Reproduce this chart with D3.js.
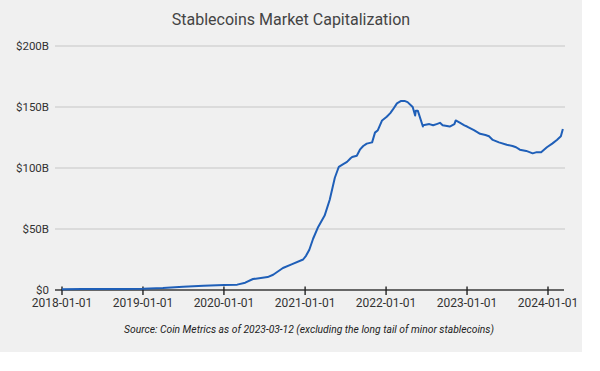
<!DOCTYPE html>
<html><head><meta charset="utf-8">
<script src="https://cdn.jsdelivr.net/npm/d3@7"></script>
<style>body{margin:0;background:#fff;}svg{display:block;}</style>
</head><body>
<svg id="c" width="600" height="371"></svg>
<script>
const title = "Stablecoins Market Capitalization";
const source = "Source: Coin Metrics as of 2023-03-12 (excluding the long tail of minor stablecoins)";
const yTicks = [0, 50, 100, 150, 200];
const yTickLabels = ["$0", "$50B", "$100B", "$150B", "$200B"];
const xTicks = ["2018-01-01","2019-01-01","2020-01-01","2021-01-01","2022-01-01","2023-01-01","2024-01-01"];
const dates = ["2018-01-01","2018-04-01","2018-07-01","2018-10-01","2019-01-01","2019-04-01","2019-07-01","2019-10-01","2020-01-01","2020-03-01","2020-04-06","2020-05-11","2020-07-16","2020-08-10","2020-09-23","2020-11-01","2020-12-23","2021-01-05","2021-01-20","2021-02-06","2021-02-27","2021-03-30","2021-04-22","2021-05-15","2021-06-02","2021-06-20","2021-07-09","2021-07-25","2021-08-01","2021-08-22","2021-09-05","2021-09-20","2021-10-06","2021-10-30","2021-11-12","2021-11-25","2021-12-14","2022-01-04","2022-01-20","2022-02-01","2022-02-19","2022-03-10","2022-03-25","2022-04-08","2022-05-01","2022-05-12","2022-05-15","2022-05-24","2022-06-16","2022-06-17","2022-07-15","2022-08-01","2022-08-17","2022-09-01","2022-09-13","2022-10-15","2022-11-05","2022-11-11","2022-12-01","2022-12-20","2023-01-01","2023-02-01","2023-03-01","2023-03-25","2023-04-10","2023-04-27","2023-05-25","2023-06-29","2023-07-25","2023-08-10","2023-08-27","2023-09-25","2023-10-24","2023-11-11","2023-12-01","2023-12-27","2024-01-20","2024-02-10","2024-02-28","2024-03-08"];
const values = [0.6,0.8,0.9,0.9,1.0,1.6,2.6,3.5,4.0,4.4,6.0,9.0,10.6,12.5,18,21,25,28,33,42,51,61,74,92,101,103,105,108,109,110,115,118,120,121,129,131,139,142,145,148,153,155,155,154,150,143,147,147,134,135,136,135,136,137,135,134,136,139,137,135,134,131,128,127,126,123,121,119,118,117,115,114,112,113,113,117,120,123,126,132];

const svg = d3.select("#c");
svg.append("rect").attr("x",0).attr("y",0).attr("width",582).attr("height",352).attr("fill","#f0f0f0");

const parse = d3.timeParse("%Y-%m-%d");
const x = d3.scaleTime().domain([parse("2018-01-01"), parse("2024-01-01")]).range([62, 548]);
const y = d3.scaleLinear().domain([0, 200]).range([290, 46]);

// gridlines
svg.append("g").selectAll("line").data(yTicks.slice(1)).join("line")
  .attr("x1",55).attr("x2",565).attr("y1",d=>y(d)).attr("y2",d=>y(d))
  .attr("stroke","#c6c6c6").attr("stroke-width",1.2);

// y labels
svg.append("g").selectAll("text").data(yTicks).join("text")
  .attr("x",49).attr("y",d=>y(d)).attr("dy","0.35em").attr("text-anchor","end")
  .attr("font-family","Roboto").attr("font-size",11.5).attr("fill","#333")
  .text((d,i)=>yTickLabels[i]);

// x axis
svg.append("line").attr("x1",55).attr("x2",564).attr("y1",y(0)).attr("y2",y(0))
  .attr("stroke","#3a3a3a").attr("stroke-width",1.5);
const xg = svg.append("g");
xg.selectAll("line").data(xTicks).join("line")
  .attr("x1",d=>x(parse(d))).attr("x2",d=>x(parse(d)))
  .attr("y1",y(0)-3.5).attr("y2",y(0)+5)
  .attr("stroke","#222").attr("stroke-width",1.4);
xg.selectAll("text").data(xTicks).join("text")
  .attr("x",d=>x(parse(d))).attr("y",307).attr("text-anchor","middle")
  .attr("font-family","Roboto").attr("font-size",12).attr("fill","#333").text(d=>d);

// line
const pts = dates.map((d,i)=>({date:parse(d), v:values[i]}));
svg.append("path").datum(pts)
  .attr("d", d3.line().x(d=>x(d.date)).y(d=>y(d.v)))
  .attr("fill","none").attr("stroke","#1f5fb8").attr("stroke-width",2).attr("stroke-linejoin","round");

svg.append("text").attr("x",291).attr("y",25).attr("text-anchor","middle")
  .attr("font-family","Roboto").attr("font-size",16).attr("fill","#444").text(title);
svg.append("text").attr("x",309).attr("y",333).attr("text-anchor","middle")
  .attr("font-family","Roboto").attr("font-style","italic").attr("font-size",10.3).attr("fill","#222").text(source);
</script>
</body></html>
